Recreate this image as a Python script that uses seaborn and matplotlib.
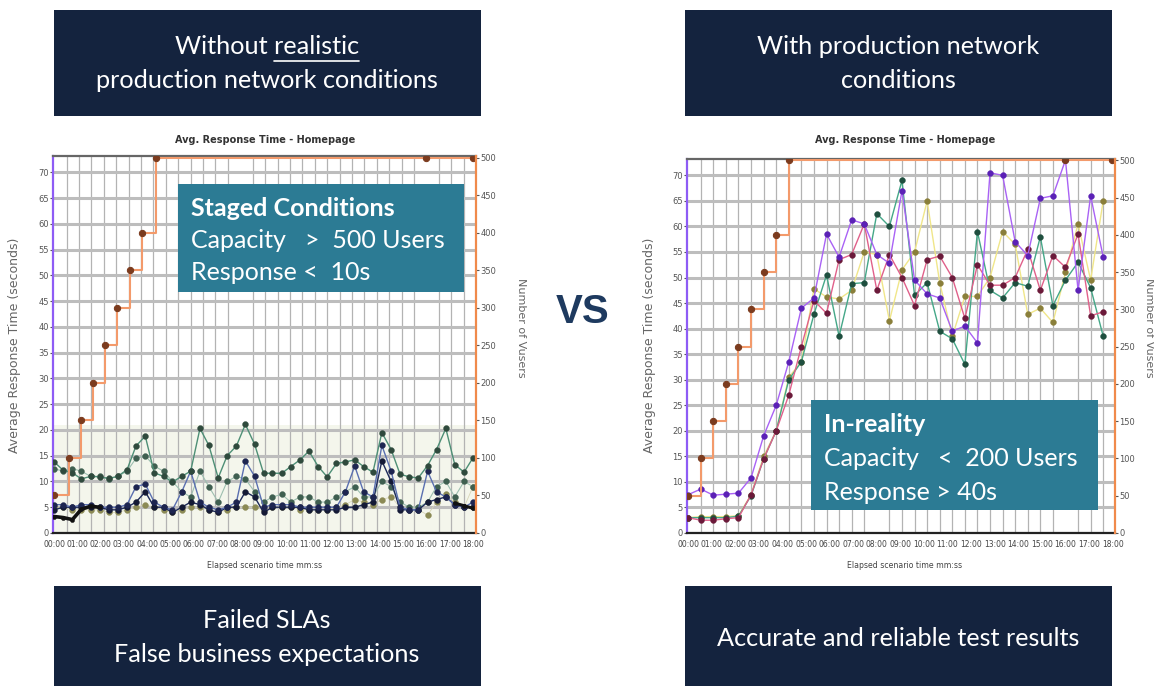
import numpy as np
import pandas as pd
import matplotlib
matplotlib.use("Agg")
import matplotlib.pyplot as plt
import seaborn as sns
from matplotlib.patches import Rectangle
from matplotlib.lines import Line2D
from matplotlib.ticker import MultipleLocator

sns.set_style("white")
plt.rcParams["font.family"] = ["Lato", "DejaVu Sans"]

# --- staged run (left chart), sample times in seconds ---
staged_t = [0, 23, 47, 70, 94, 117, 141, 164, 188, 211, 235, 258, 282, 305, 329, 352,
            376, 399, 423, 446, 470, 493, 517, 540, 563, 587, 610, 634, 657, 681, 704,
            728, 751, 775, 798, 822, 845, 869, 892, 916, 939, 963, 986, 1010, 1033, 1057, 1080]
staged_a = [13.8, 12.2, 11.7, 10.5, 11, 10.9, 10.6, 11, 12.3, 16.9, 18.8, 11.7, 11, 9.9, 11, 12,
            20.3, 17, 10.7, 15, 16.9, 21.1, 17.2, 11.6, 11.6, 11.6, 12.9, 14.2, 15.9, 12.9, 10.9,
            13.5, 13.8, 14.2, 12.9, 11.8, 19.5, 16.2, 11.4, 10.9, 10.7, 13.1, 16.2, 20.3, 13.3, 11.8, 14.6]
staged_b = [12.5, 12, 12.5, 12, 11, 11, 10.5, 11, 12, 14.5, 15, 13, 12, 10, 8, 7,
            12, 9, 6, 10, 11, 10.5, 8, 6, 7, 7.5, 6, 7, 7, 6, 6,
            7, 8, 9, 7, 7, 10, 9, 6, 5, 5, 6, 9, 10, 7, 10, 9]
staged_c = [5.5, 5.5, 5, 5.5, 5.5, 5, 5, 5, 5.5, 9, 9.5, 6, 5, 4.5, 8, 12,
            6, 5, 4.5, 5, 6, 14, 11, 5, 5.5, 5.5, 5.5, 5, 5, 5, 5,
            5, 8, 13, 8, 7, 17, 12, 5, 4.5, 4.5, 12, 8, 7, 5.5, 5, 6]
staged_d = [4.5, 5, 5, 5, 5, 5, 4.5, 4.5, 5, 6, 8, 5, 5, 4, 5, 6,
            5.5, 4.5, 4, 5, 5, 8, 7, 4, 5, 5, 5, 5, 4.5, 4.5, 4.5,
            4.5, 5, 5, 5.5, 6, 14, 10, 4.5, 4.5, 4.5, 6, 6.5, 7, 5.5, 5, 5]
staged_e = [5, 5, 4.5, 4.5, 4.5, 4.5, 4, 4, 4.5, 5, 5.5, 5, 4.5, 4, 4.5, 5,
            5, 4.5, 4, 4.5, 5, 5, 5, 4.5, 5, 5, 5, 4.5, 4.5, 4.5, 4.5,
            5, 5.5, 6.5, 6, 5.5, 6.5, 7, 5, 4.5, 4.5, 3.5, 6, 7.5, 6, 5, 9]
staged_black_t = [0, 23, 47, 70, 94, 117]
staged_black = [3.2, 3.0, 2.6, 4.6, 5.2, 5.0]
staged_black_end_t = [1033, 1057, 1080]
staged_black_end = [5.8, 5.3, 4.8]
staged_users_t = [0, 38, 68, 101, 131, 163, 196, 227, 262, 960, 1080]
staged_users = [50, 100, 150, 200, 250, 300, 350, 400, 500, 500, 500]

# --- production-like run (right chart) ---
prod_t = [0, 32, 64, 96, 128, 160, 192, 224, 256, 288, 320, 352, 384, 416, 448, 480, 512,
          544, 576, 608, 640, 672, 704, 736, 768, 800, 832, 864, 896, 928, 960, 992, 1024, 1056]
prod_purple = [7.5, 8.6, 7.4, 7.6, 7.8, 10.8, 19, 25, 33.5, 44, 46, 58.5, 54, 61.3, 60.5, 54.5, 52.8,
               67, 49.5, 46.8, 46, 39.5, 40.5, 37.2, 70.5, 70, 57, 54.3, 65.5, 66, 73, 47.5, 66, 54]
prod_pink = [3, 2.5, 2.5, 2.8, 3, 7.5, 14.5, 20, 27, 36.5, 45.5, 43, 53.5, 54.5, 60.5, 47.5, 54.5,
             50, 44.5, 53.5, 54.2, 50, 42, 52.5, 48.5, 48.5, 50, 55.5, 47.5, 54.3, 52, 58.5, 42.5, 43.3]
prod_green = [3, 3, 3, 3, 3.3, 7.3, 14.5, 20, 30, 33.5, 42.8, 50.5, 38.5, 48.8, 49, 62.5, 60,
              69, 46.5, 49, 39.5, 38, 33, 59, 47.5, 46, 49, 48.3, 58, 44.5, 49.5, 53, 48, 38.5]
prod_yellow = [3, 3.2, 3.2, 3.2, 3.4, 7.5, 15, 20, 30.5, 33.5, 47.8, 46.2, 45.8, 47.5, 55, 54.5, 41.5,
               51.5, 55, 65, 49, 38.5, 46.3, 46.3, 50, 59, 56.5, 42.8, 44, 41.2, 51, 60.5, 49.5, 65]
prod_users_t = [0, 32, 64, 96, 128, 160, 192, 224, 256, 960, 1078]
prod_users = [50, 100, 150, 200, 250, 300, 350, 400, 500, 500, 500]

minute_labels = ["00:00", "01:00", "02:00", "03:00", "04:00", "05:00", "06:00", "07:00", "08:00", "09:00",
                 "10:00", "11:00", "12:00", "13:00", "14:00", "15:00", "16:00", "17:00", "18:00"]

NAVY = "#14233e"
TEAL = "#2c7b94"
NARROW = ["Liberation Sans Narrow", "DejaVu Sans"]

W, H = 1154, 686
fig = plt.figure(figsize=(W / 100, H / 100), dpi=100)
fig.patch.set_facecolor("white")


def fx(px):
    return px / W


def fy(py):
    return 1 - py / H


def box(x0, y0, x1, y1, color, z=0):
    fig.add_artist(Rectangle((fx(x0), fy(y1)), fx(x1) - fx(x0), fy(y0) - fy(y1),
                             transform=fig.transFigure, color=color, zorder=z, lw=0))


def series(ax, t, v, line, mark, lw=1.0, ms=4.2, z=3):
    df = pd.DataFrame({"t": np.array(t) / 60.0, "v": v})
    sns.lineplot(data=df, x="t", y="v", ax=ax, color=line, lw=lw, marker="o", ms=ms,
                 markerfacecolor=mark, markeredgecolor=mark, markeredgewidth=0.3, zorder=z)


def chart(left, top, right, bottom, tmax, band):
    ax = fig.add_axes([fx(left), fy(bottom), fx(right) - fx(left), fy(top) - fy(bottom)])
    ax.set_xlim(-0.05, tmax)
    ax.set_ylim(0, 73.2)
    ax.set_axisbelow(True)
    if band:
        ax.axhspan(0, 21, color="#f4f6ec", zorder=0.1, lw=0)
    ax.set_yticks(range(0, 71, 5))
    ax.set_xticks(range(0, 19))
    ax.set_xticklabels(minute_labels)
    ax.xaxis.set_minor_locator(MultipleLocator(32 / 60))
    ax.grid(False)
    ax.yaxis.grid(True, which="major", color="#bdbdbd", lw=2.2)
    ax.xaxis.grid(True, which="minor", color="#b3b3b3", lw=0.9)
    ax.tick_params(axis="y", labelsize=6, colors="#555555", length=2, pad=1)
    ax.tick_params(axis="x", which="major", labelsize=5.5, colors="#444444", length=3, pad=2)
    ax.tick_params(axis="x", which="minor", length=3, color="#333333")
    for lab in ax.get_xticklabels() + ax.get_yticklabels():
        lab.set_family(NARROW)
    ax.spines["left"].set_color("#8e5cf5")
    ax.spines["left"].set_linewidth(1.6)
    ax.spines["top"].set_color("#666666")
    ax.spines["top"].set_linewidth(1.6)
    ax.spines["bottom"].set_color("#222222")
    ax.spines["bottom"].set_linewidth(1.6)
    ax.spines["right"].set_visible(False)
    ax.set_xlabel("")
    ax.set_ylabel("")
    ax2 = ax.twinx()
    ax2.set_ylim(0, 502)
    ax2.set_yticks(range(0, 501, 50))
    ax2.tick_params(axis="y", labelsize=6, colors="#555555", length=2, pad=1)
    for lab in ax2.get_yticklabels():
        lab.set_family(NARROW)
    for s in ("left", "top", "bottom"):
        ax2.spines[s].set_visible(False)
    ax2.spines["right"].set_color("#f08a4b")
    ax2.spines["right"].set_linewidth(1.6)
    return ax, ax2


def users_line(ax2, t, v):
    df = pd.DataFrame({"t": np.array(t) / 60.0, "u": v})
    sns.lineplot(data=df, x="t", y="u", ax=ax2, color="#f39a6b", lw=1.5, drawstyle="steps-post",
                 marker="o", ms=4.5, markerfacecolor="#7b3b1e", markeredgecolor="#7b3b1e")
    ax2.set_xlabel("")
    ax2.set_ylabel("")


# ---------- left chart ----------
axL, axL2 = chart(53, 156, 476, 533, 18.13, True)
series(axL, staged_t, staged_e, "#d8d6b8", "#8b8a55", lw=0.6)
series(axL, staged_t, staged_b, "#9dbfb0", "#3f5f50", lw=0.8)
series(axL, staged_t, staged_d, "#1d2a5a", "#141a35")
series(axL, staged_t, staged_c, "#5a6fb0", "#1d2550")
series(axL, staged_t, staged_a, "#4e8f76", "#2f4a3d")
series(axL, staged_black_t, staged_black, "#111111", "#111111", lw=2.6, ms=3, z=4)
series(axL, staged_black_end_t, staged_black_end, "#111111", "#111111", lw=2.2, ms=3, z=4)
axL.set_xlabel("")
axL.set_ylabel("")
users_line(axL2, staged_users_t, staged_users)

# ---------- right chart ----------
axR, axR2 = chart(687, 159, 1115, 533, 18.1, False)
series(axR, prod_t, prod_yellow, "#f0e68a", "#8a7f3a")
series(axR, prod_t, prod_green, "#45a788", "#1f4f3f")
series(axR, prod_t, prod_pink, "#e0608a", "#6b1a3a")
series(axR, prod_t, prod_purple, "#a962f5", "#5b21b6")
axR.set_xlabel("")
axR.set_ylabel("")
users_line(axR2, prod_users_t, prod_users)

# chart texts
for cx, ylab_x, vus_x in ((265, 15, 521), (905, 650, 1149)):
    fig.text(fx(cx), fy(140), "Avg. Response Time - Homepage", ha="center", va="center",
             fontsize=7, fontweight="bold", color="#333333", family=NARROW)
    fig.text(fx(cx), fy(565), "Elapsed scenario time mm:ss", ha="center", va="center",
             fontsize=5.6, color="#444444", family=NARROW)
    fig.text(fx(ylab_x), fy(345), "Average Response Time (seconds)", ha="center", va="center",
             rotation=90, fontsize=9, color="#666666", family=NARROW)
    fig.text(fx(vus_x), fy(328), "Number of Vusers", ha="center", va="center",
             rotation=270, fontsize=8, color="#666666", family=NARROW)

# dark header / footer boxes
box(54, 10, 481, 116, NAVY)
box(685, 10, 1112, 116, NAVY)
box(54, 586, 481, 686, NAVY)
box(685, 586, 1112, 686, NAVY)

FS = 18.2
t1 = fig.text(fx(267), fy(47), "Without realistic", ha="center", va="center", fontsize=FS, color="white")
fig.text(fx(267), fy(81), "production network conditions", ha="center", va="center", fontsize=FS, color="white")
fig.text(fx(898), fy(46), "With production network", ha="center", va="center", fontsize=FS, color="white")
fig.text(fx(898), fy(80), "conditions", ha="center", va="center", fontsize=FS, color="white")
fig.text(fx(267), fy(621), "Failed SLAs", ha="center", va="center", fontsize=FS, color="white")
fig.text(fx(267), fy(655), "False business expectations", ha="center", va="center", fontsize=FS, color="white")
fig.text(fx(898), fy(638), "Accurate and reliable test results", ha="center", va="center", fontsize=FS, color="white")

# underline "realistic"
r = fig.canvas.get_renderer()
bb = t1.get_window_extent(r)
tmp = fig.text(0, 0, "realistic", fontsize=FS)
w_real = tmp.get_window_extent(r).width
tmp.remove()
fig.add_artist(Line2D([(bb.x1 - w_real) / W, bb.x1 / W], [fy(61), fy(61)],
                      transform=fig.transFigure, color="white", lw=1.2))

fig.text(fx(583), fy(312), "VS", ha="center", va="center", fontsize=29, fontweight="bold",
         color="#1e3a5f", family=["Liberation Sans", "DejaVu Sans"])

# teal call-outs
TS = 18
box(178, 184, 464, 292, TEAL, z=5)
fig.text(fx(191), fy(208), "Staged Conditions", ha="left", va="center", fontsize=TS, fontweight="bold",
         color="white", zorder=6)
fig.text(fx(191), fy(241), "Capacity   >  500 Users", ha="left", va="center", fontsize=TS,
         color="white", zorder=6)
fig.text(fx(191), fy(273), "Response <  10s", ha="left", va="center", fontsize=TS, color="white", zorder=6)

box(811, 400, 1098, 510, TEAL, z=5)
fig.text(fx(824), fy(425), "In-reality", ha="left", va="center", fontsize=TS, fontweight="bold",
         color="white", zorder=6)
fig.text(fx(824), fy(459), "Capacity   <  200 Users", ha="left", va="center", fontsize=TS,
         color="white", zorder=6)
fig.text(fx(824), fy(492), "Response > 40s", ha="left", va="center", fontsize=TS, color="white", zorder=6)

fig.savefig("out.png", dpi=100)
